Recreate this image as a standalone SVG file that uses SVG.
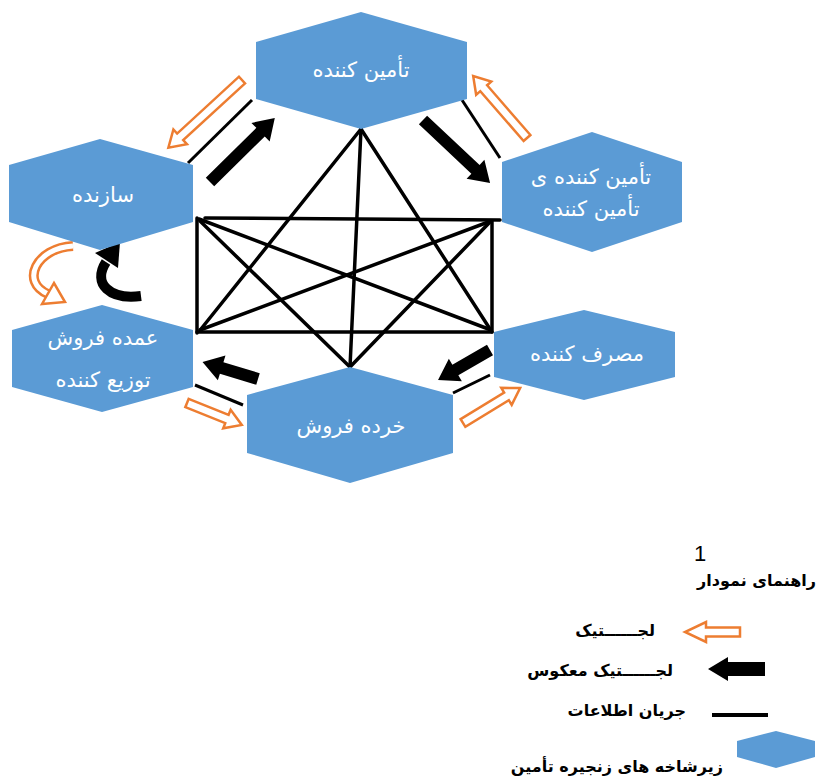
<svg xmlns="http://www.w3.org/2000/svg" width="819" height="777" viewBox="0 0 819 777">
<style>
.hex{fill:#5B9BD5;}
.nt{font-family:"DejaVu Sans",sans-serif;font-size:21px;fill:#ffffff;text-anchor:middle;direction:rtl;}
.lt{font-family:"DejaVu Sans",sans-serif;font-size:16px;font-weight:bold;fill:#000;text-anchor:start;direction:rtl;}
.web{stroke:#000;stroke-width:3.5;fill:none;stroke-linecap:round;}
.info{stroke:#000;stroke-width:3;}
.blk{fill:#000;}
.org{fill:#fff;stroke:#ED7D31;stroke-width:2.5;stroke-linejoin:miter;}
</style>
<rect width="819" height="777" fill="#fff"/>

<g id="connectors">
  <g id="web">
    <line class="web" x1="205" y1="218" x2="500" y2="220"/>
    <line class="web" x1="197" y1="218" x2="197" y2="333"/>
    <line class="web" x1="197" y1="332" x2="492" y2="332"/>
    <line class="web" x1="492" y1="221" x2="492" y2="332"/>
    <line class="web" x1="199" y1="219" x2="491" y2="330"/>
    <line class="web" x1="491" y1="221" x2="200" y2="330"/>
    <line class="web" x1="361" y1="129" x2="201" y2="329"/>
    <line class="web" x1="361" y1="129" x2="490" y2="329"/>
    <line class="web" x1="361" y1="129" x2="350" y2="367"/>
    <line class="web" x1="350" y1="367" x2="200" y2="221"/>
    <line class="web" x1="350" y1="367" x2="490" y2="222"/>
  </g>
  <g id="info-lines">
    <line class="info" x1="252" y1="100" x2="188" y2="163"/>
    <line class="info" x1="462" y1="100" x2="500" y2="158"/>
    <line class="info" x1="490" y1="375" x2="453" y2="393"/>
    <line class="info" x1="195" y1="385" x2="243" y2="405"/>
  </g>
  <g id="reverse-logistics">
    <polygon class="blk" transform="translate(210,182) rotate(-44.6)" points="0,-6 71,-6 71,-13 91,0 71,13 71,6 0,6"/>
    <polygon class="blk" transform="translate(423,120) rotate(43.2)" points="0,-6 72,-6 72,-13 92,0 72,13 72,6 0,6"/>
    <polygon class="blk" transform="translate(490,350) rotate(150)" points="0,-6 40,-6 40,-13 60,0 40,13 40,6 0,6"/>
    <polygon class="blk" transform="translate(258,379) rotate(197)" points="0,-6 38,-6 38,-13 58,0 38,13 38,6 0,6"/>
    <path d="M141,296 C110,300 92,284 106,262" fill="none" stroke="#000" stroke-width="10"/>
    <polygon class="blk" points="120,242 95,253 118,268"/>
  </g>
  <g id="logistics">
    <polygon class="org" transform="translate(242,80) rotate(137.4)" points="0,-4.5 84,-4.5 84,-10 100,0 84,10 84,4.5 0,4.5"/>
    <polygon class="org" transform="translate(527,138) rotate(-131)" points="0,-4.5 66,-4.5 66,-10 82,0 66,10 66,4.5 0,4.5"/>
    <polygon class="org" transform="translate(463,423) rotate(-31.5)" points="0,-4.5 51,-4.5 51,-10 67,0 51,10 51,4.5 0,4.5"/>
    <polygon class="org" transform="translate(187,403) rotate(21.8)" points="0,-4.5 43,-4.5 43,-10 59,0 43,10 43,4.5 0,4.5"/>
    <path d="M73,246 C36,248 20,282 48,294" fill="none" stroke="#ED7D31" stroke-width="10"/>
    <path d="M73,246 C36,248 20,282 48,294" fill="none" stroke="#fff" stroke-width="5"/>
    <polygon class="org" points="42,304 54,283 65,302"/>
  </g>
</g>

<g id="node-supplier">
  <polygon class="hex" points="361,12 467,42 467,99 361,129 256,99 256,42"/>
  <text class="nt" x="361" y="77">تأمین کننده</text>
</g>
<g id="node-supplier-of-supplier">
  <polygon class="hex" points="592,132 682,162 682,222 592,252 502,222 502,162"/>
  <text class="nt" x="591" y="184">تأمین کننده ی</text>
  <text class="nt" x="591" y="216">تأمین کننده</text>
</g>
<g id="node-consumer">
  <polygon class="hex" points="584,310 675,332 675,377 584,400 494,377 494,332"/>
  <text class="nt" x="587" y="361">مصرف کننده</text>
</g>
<g id="node-retailer">
  <polygon class="hex" points="350,367 453,395 453,453 350,483 247,453 247,395"/>
  <text class="nt" x="351" y="433">خرده فروش</text>
</g>
<g id="node-wholesaler">
  <polygon class="hex" points="102,305 193,330 193,387 102,412 12,387 12,330"/>
  <text class="nt" x="103" y="345">عمده فروش</text>
  <text class="nt" x="103" y="387">توزیع کننده</text>
</g>
<g id="node-manufacturer">
  <polygon class="hex" points="100,139 193,165 193,222 100,250 9,222 9,165"/>
  <text class="nt" x="103" y="202">سازنده</text>
</g>

<g id="legend">
  <text x="700" y="561" font-family="Liberation Sans, sans-serif" font-size="22" fill="#000" text-anchor="middle">1</text>
  <text class="lt" x="816" y="586">راهنمای نمودار</text>
  <polygon class="org" transform="translate(740,632) rotate(180)" points="0,-4.5 34,-4.5 34,-10 55,0 34,10 34,4.5 0,4.5"/>
  <text class="lt" x="655" y="636">لجــــــتیک</text>
  <polygon class="blk" transform="translate(765,669) rotate(180)" points="0,-7 37,-7 37,-12 57,0 37,12 37,7 0,7"/>
  <text class="lt" x="673" y="676">لجــــــتیک معکوس</text>
  <line x1="712" y1="715" x2="768" y2="715" stroke="#000" stroke-width="4"/>
  <text class="lt" x="686" y="716">جریان اطلاعات</text>
  <polygon class="hex" points="776,731 815,741 815,757 776,768 737,757 737,741"/>
  <text class="lt" x="723" y="772">زیرشاخه های زنجیره تأمین</text>
</g>
</svg>
